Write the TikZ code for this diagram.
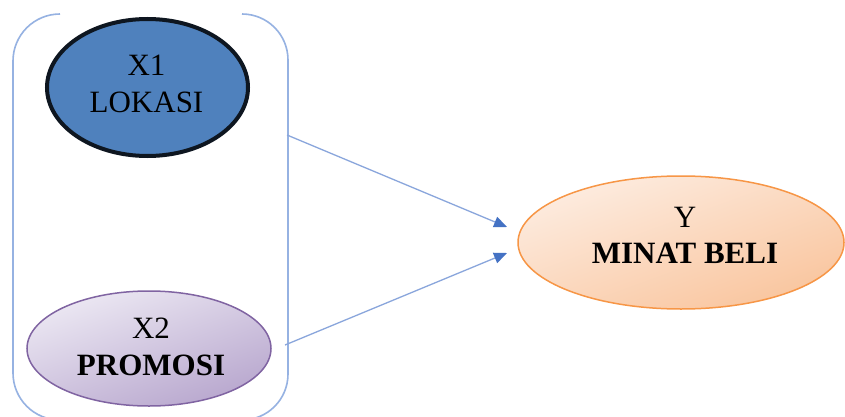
\documentclass[tikz,border=0pt]{standalone}
\usepackage{fontspec}
\setmainfont{Liberation Serif}
\usetikzlibrary{shapes.geometric,arrows.meta}
\definecolor{bracketblue}{RGB}{150,178,226}
\definecolor{arrowline}{RGB}{138,166,220}
\definecolor{arrowhead}{RGB}{68,114,196}
\definecolor{xonefill}{RGB}{79,129,189}
\definecolor{xoneborder}{RGB}{14,22,32}
\definecolor{xtwoborder}{RGB}{128,100,162}
\definecolor{xtwotop}{RGB}{236,232,243}
\definecolor{xtwobot}{RGB}{184,167,206}
\definecolor{yborder}{RGB}{247,150,70}
\definecolor{ytop}{RGB}{253,236,224}
\definecolor{ybot}{RGB}{249,197,158}
\tikzset{
  ell/.style={ellipse, inner sep=0pt},
  txt/.style={anchor=base, inner sep=0pt, font=\fontsize{31}{37}\selectfont},
  btxt/.style={txt, font=\fontsize{31}{37}\selectfont\bfseries},
  bracket/.style={draw=bracketblue, line width=1.6pt},
  link/.style={draw=arrowline, line width=1.3pt, -{Triangle[length=13pt,width=11pt,fill=arrowhead,color=arrowhead]}}
}
\begin{document}
\begin{tikzpicture}[x=1pt,y=1pt]
\useasboundingbox (0,0) rectangle (845,416);
\clip (0,0) rectangle (845,416);
\fill[white] (0,0) rectangle (845,416);
% bracket pair
\draw[bracket] (60,402) arc[start angle=90,end angle=180,radius=47] -- (13,43) arc[start angle=180,end angle=270,radius=47];
\draw[bracket] (242,402) arc[start angle=90,end angle=0,radius=46] -- (288,42) arc[start angle=0,end angle=-90,radius=46];
% ellipses
\node[ell, draw=xoneborder, line width=4pt, fill=xonefill, minimum width=201pt, minimum height=137pt] (x1) at (147.5,328.5) {};
\node[ell, draw=xtwoborder, line width=1.5pt, top color=xtwotop, bottom color=xtwobot, shading angle=20, minimum width=244pt, minimum height=115pt] (x2) at (149,67.5) {};
\node[ell, draw=yborder, line width=1.5pt, top color=ytop, bottom color=ybot, shading angle=20, minimum width=326pt, minimum height=133pt] (y) at (681,173.5) {};
% texts
\node[txt] (x1a) at (146.5,341) {X1};
\node[txt] (x1b) at (146.5,304) {LOKASI};
\node[txt] (x2a) at (151,78) {X2};
\node[btxt] (x2b) at (151,41) {PROMOSI};
\node[txt] (ya) at (685,189) {Y};
\node[btxt] (yb) at (685,153) {MINAT BELI};
% connectors
\coordinate (s1) at (287,281);
\coordinate (s2) at (285,71);
\coordinate (e1) at (507,189);
\coordinate (e2) at (507,163);
\draw[link] (s1) -- (e1);
\draw[link] (s2) -- (e2);
\end{tikzpicture}
\end{document}
